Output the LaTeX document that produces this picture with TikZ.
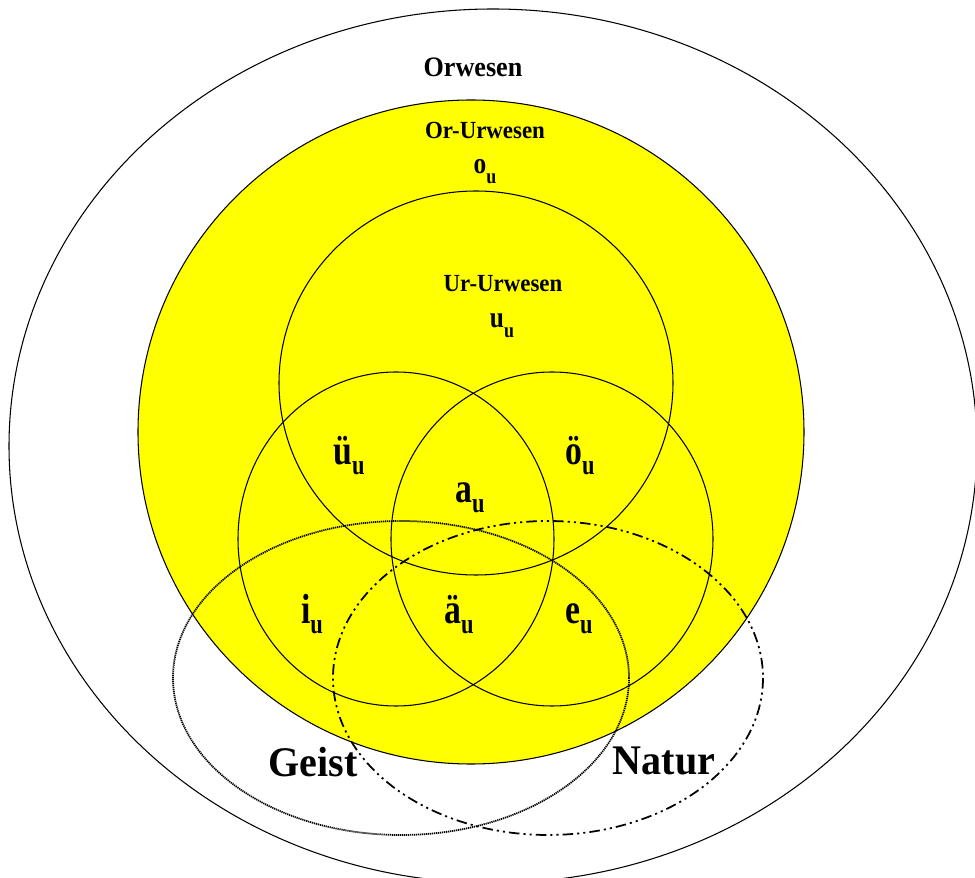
\documentclass[tikz,border=0pt]{standalone}
\usepackage{fontspec}
\setmainfont{Liberation Serif}
\definecolor{urgelb}{RGB}{255, 255, 0}
\newcommand{\subu}[1]{\raisebox{-5.3pt}{\fontsize{#1}{#1}\selectfont u}}
\tikzset{
    ring/.style={line width=0.6pt},
    geistline/.style={line width=1pt, dash pattern=on 0.7pt off 0.45pt},
    naturline/.style={line width=1pt, dash pattern=on 6pt off 2.3pt on 1.2pt off 2.3pt on 1.2pt off 2.3pt},
    lbl/.style={anchor=base, inner sep=0pt, font=\bfseries}
}
\begin{document}
\begin{tikzpicture}[x=0.02cm, y=-0.02cm]
    \useasboundingbox (0,0) rectangle (975,878);
    \clip (0,0) rectangle (975,878);

    % Orwesen
    \draw[ring] (493,446) ellipse [x radius=484, y radius=437];

    % Or-Urwesen
    \draw[ring, fill=urgelb] (471,432) ellipse [x radius=333, y radius=332];

    % Ur-Urwesen
    \draw[ring] (476,383) ellipse [x radius=197, y radius=192];

    % left and right
    \draw[ring] (396,539) ellipse [x radius=158, y radius=167];
    \draw[ring] (552,539) ellipse [x radius=161, y radius=167];

    % Geist and Natur
    \draw[geistline] (401,678) ellipse [x radius=228, y radius=157];
    \draw[naturline] (548,678) ellipse [x radius=215, y radius=157];

    % Labels
    \node[lbl, font=\bfseries\fontsize{16}{16}\selectfont, xscale=0.93] (orwesen) at (473,77) {Orwesen};
    \node[lbl, font=\bfseries\fontsize{14}{14}\selectfont, xscale=0.93] (orurwesen) at (485,139) {Or-Urwesen};
    \node[lbl, font=\bfseries\fontsize{17}{17}\selectfont, xscale=0.85] (ou) at (485,174) {o\subu{12}};
    \node[lbl, font=\bfseries\fontsize{14}{14}\selectfont, xscale=0.93] (ururwesen) at (503,292) {Ur-Urwesen};
    \node[lbl, font=\bfseries\fontsize{17}{17}\selectfont, xscale=0.85] (uu) at (502,328) {u\subu{12}};

    % Vowels
    \node[lbl, font=\bfseries\fontsize{24}{24}\selectfont, xscale=0.8] (ueu) at (349,465) {ü\subu{16}};
    \node[lbl, font=\bfseries\fontsize{24}{24}\selectfont, xscale=0.8] (oeu) at (580,465) {ö\subu{16}};
    \node[lbl, font=\bfseries\fontsize{24}{24}\selectfont, xscale=0.8] (au) at (470,503) {a\subu{16}};
    \node[lbl, font=\bfseries\fontsize{24}{24}\selectfont, xscale=0.8] (iu) at (312,624) {i\subu{16}};
    \node[lbl, font=\bfseries\fontsize{24}{24}\selectfont, xscale=0.8] (aeu) at (459,624) {ä\subu{16}};
    \node[lbl, font=\bfseries\fontsize{24}{24}\selectfont, xscale=0.8] (eu) at (579,624) {e\subu{16}};

    % Geist, Natur
    \node[lbl, font=\bfseries\fontsize{24}{24}\selectfont, xscale=0.95] (geist) at (313,777) {Geist};
    \node[lbl, font=\bfseries\fontsize{24}{24}\selectfont, xscale=0.95] (natur) at (664,775) {Natur};
\end{tikzpicture}
\end{document}
